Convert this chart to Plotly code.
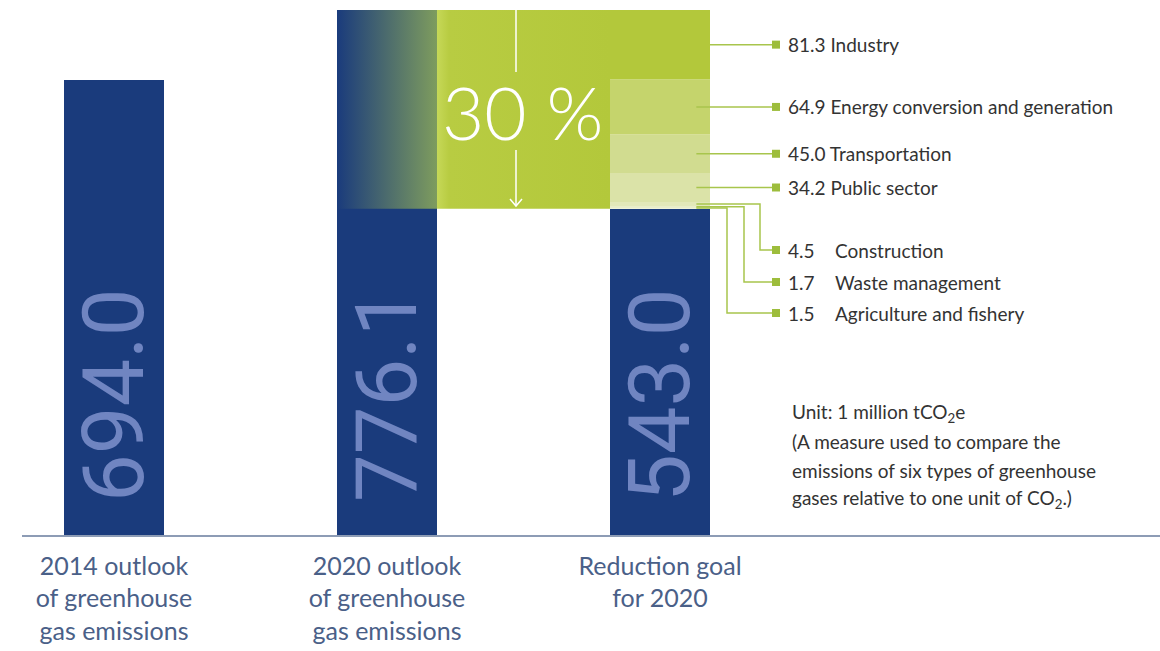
import plotly.graph_objects as go

# ---------------- data ----------------
categories = ["2014 outlook<br>of greenhouse<br>gas emissions",
              "2020 outlook<br>of greenhouse<br>gas emissions",
              "Reduction goal<br>for 2020"]
totals = [694.0, 776.1, 543.0]
value_labels = ["694.0", "776.1", "543.0"]

# reduction by sector (stacked bottom -> top on top of the 2020 goal)
sectors = ["Agriculture and fishery", "Waste management", "Construction",
           "Public sector", "Transportation", "Energy conversion and generation", "Industry"]
sector_values = [1.5, 1.7, 4.5, 34.2, 45.0, 64.9, 81.3]
sector_value_labels = ["1.5", "1.7", "4.5", "34.2", "45.0", "64.9", "81.3"]
reduction_label = "30 %"

# ---------------- style / layout constants ----------------
W, H = 1160, 651
ML, MB = 22, 116
PX_PER_X = 273.0
X0_PX = 114.0
XMIN = -(X0_PX - ML) / PX_PER_X
XMAX = XMIN + (W - ML) / PX_PER_X
Y0 = 160.0
PLOT_H = H - MB
K = 525.0 / (totals[1] - Y0)
YMAX = Y0 + PLOT_H / K
BW = 100 / PX_PER_X

NAVY = "#1a3b7c"
GREEN = "#b3c83b"
SECTOR_COLORS = ["#eef2d9", "#e8edc9", "#e2e8b9", "#dbe3a8", "#d1dc90", "#c5d46c", GREEN]
LINE_GREEN = "#a8c54c"
NUM_COLOR = "#7085c1"
CAT_COLOR = "#4a6088"
TXT = "#333333"
FONT = "Lato"


def ux(px):
    return XMIN + (px - ML) / PX_PER_X


def uy(py):
    return Y0 + (PLOT_H - py) / K


fig = go.Figure()

# main bars
fig.add_trace(go.Bar(x=[0, 1, 2], y=totals, width=BW, marker=dict(color=NAVY, line=dict(width=0)),
                     hoverinfo="skip", showlegend=False))

# sector stripes on the goal bar
bases = []
acc = totals[2]
for v in sector_values:
    bases.append(acc)
    acc += v
fig.add_trace(go.Bar(x=[2] * len(sector_values), y=sector_values, base=bases, width=BW,
                     marker=dict(color=SECTOR_COLORS, line=dict(width=0)),
                     hoverinfo="skip", showlegend=False))

# gradient part of the 2020 outlook bar (the part to be reduced)
gx0, gx1 = 1 - BW / 2, 1 + BW / 2
fig.add_trace(go.Scatter(x=[gx0, gx1, gx1, gx0, gx0],
                         y=[totals[2], totals[2], totals[1], totals[1], totals[2]],
                         mode="lines", line=dict(width=0), fill="toself",
                         fillgradient=dict(type="horizontal",
                                           colorscale=[[0, NAVY], [1, "#7e9c5e"]]),
                         hoverinfo="skip", showlegend=False))

# green reduction band between the two bars
bx0, bx1 = 1 + BW / 2, 2 - BW / 2
fig.add_trace(go.Scatter(x=[bx0, bx1, bx1, bx0, bx0],
                         y=[totals[2], totals[2], totals[1], totals[1], totals[2]],
                         mode="lines", line=dict(width=0), fill="toself",
                         fillgradient=dict(type="horizontal",
                                           colorscale=[[0, "#c6d858"], [0.07, "#b8cc42"], [1, GREEN]]),
                         hoverinfo="skip", showlegend=False))

# connectors + labels
mids = [b + v / 2 for b, v in zip(bases, sector_values)]
x_edge = 2 + BW / 2
x_in = 2 + BW / 2 - 0.05
x_mark = ux(776)
x_txt = ux(786)
x_name = ux(833)
low_label_py = [313, 282, 250]   # agriculture, waste, construction
low_elbow_px = [727, 744, 760]

annotations = []
mk_x, mk_y = [], []
for i, (name, val, lab, mid) in enumerate(zip(sectors, sector_values, sector_value_labels, mids)):
    if i < 3:
        ly = uy(low_label_py[i])
        ex = ux(low_elbow_px[i])
        xs = [x_in, ex, ex, x_mark]
        ys = [mid, mid, ly, ly]
        annotations.append(dict(x=x_txt, y=ly, xref="x", yref="y", text=lab, showarrow=False,
                                xanchor="left", yanchor="middle", font=dict(family=FONT, size=19, color=TXT)))
        annotations.append(dict(x=x_name, y=ly, xref="x", yref="y", text=name, showarrow=False,
                                xanchor="left", yanchor="middle", font=dict(family=FONT, size=19, color=TXT)))
    else:
        ly = mid
        xs = [x_edge if name == "Industry" else x_in, x_mark]
        ys = [mid, mid]
        annotations.append(dict(x=x_txt, y=ly, xref="x", yref="y", text=f"{lab} {name}", showarrow=False,
                                xanchor="left", yanchor="middle", font=dict(family=FONT, size=19, color=TXT)))
    fig.add_trace(go.Scatter(x=xs, y=ys, mode="lines", line=dict(color=LINE_GREEN, width=1.5),
                             hoverinfo="skip", showlegend=False))
    mk_x.append(x_mark)
    mk_y.append(ly)

fig.add_trace(go.Scatter(x=mk_x, y=mk_y, mode="markers",
                         marker=dict(symbol="square", size=8, color="#9dbd3c"),
                         hoverinfo="skip", showlegend=False))

# values inside the bars
for i, lab in enumerate(value_labels):
    annotations.append(dict(x=i, y=uy(504), xref="x", yref="y", text=lab, textangle=-90,
                            showarrow=False, xanchor="center", yanchor="bottom",
                            font=dict(family="Roboto", size=85, color=NUM_COLOR)))

# 30 % and the arrow (white line interrupted by the label, open arrowhead at the goal level)
ax_x = ux(516)
fig.add_shape(type="line", x0=ax_x, x1=ax_x, y0=totals[1], y1=uy(72), xref="x", yref="y",
              line=dict(color="white", width=1.5))
fig.add_shape(type="line", x0=ax_x, x1=ax_x, y0=uy(150), y1=totals[2] + 3, xref="x", yref="y",
              line=dict(color="white", width=1.5))
hx, hy = 6 / PX_PER_X, 7 / K
fig.add_trace(go.Scatter(x=[ax_x - hx, ax_x, ax_x + hx], y=[totals[2] + 3 + hy, totals[2] + 3, totals[2] + 3 + hy],
                         mode="lines", line=dict(color="white", width=1.5),
                         hoverinfo="skip", showlegend=False))
annotations.append(dict(x=ux(522), y=uy(112), xref="x", yref="y", text=reduction_label,
                        showarrow=False, xanchor="center", yanchor="middle",
                        font=dict(family=FONT, size=73, color="white", weight=300)))

# unit note
unit_lines = ["Unit: 1 million tCO<sub>2</sub>e",
              "(A measure used to compare the",
              "emissions of six types of greenhouse",
              "gases relative to one unit of CO<sub>2</sub>.)"]
for j, t in enumerate(unit_lines):
    annotations.append(dict(x=ux(790), y=uy(413 + 28.5 * j), xref="x", yref="y", text=t,
                            showarrow=False, xanchor="left", yanchor="middle",
                            font=dict(family=FONT, size=19, color=TXT)))

fig.update_layout(
    width=W, height=H,
    margin=dict(l=ML, r=0, t=0, b=MB),
    paper_bgcolor="white", plot_bgcolor="white",
    barmode="overlay", showlegend=False,
    xaxis=dict(range=[XMIN, XMAX], tickvals=[0, 1, 2], ticktext=categories,
               tickfont=dict(family=FONT, size=25, color=CAT_COLOR),
               showgrid=False, zeroline=False, showline=True, linecolor="#8d9cb5", linewidth=1.5,
               ticks="", ticklabelstandoff=8, fixedrange=True),
    yaxis=dict(range=[Y0, YMAX], visible=False, showgrid=False, zeroline=False, fixedrange=True),
    annotations=annotations,
)

fig.write_html("out.html")
